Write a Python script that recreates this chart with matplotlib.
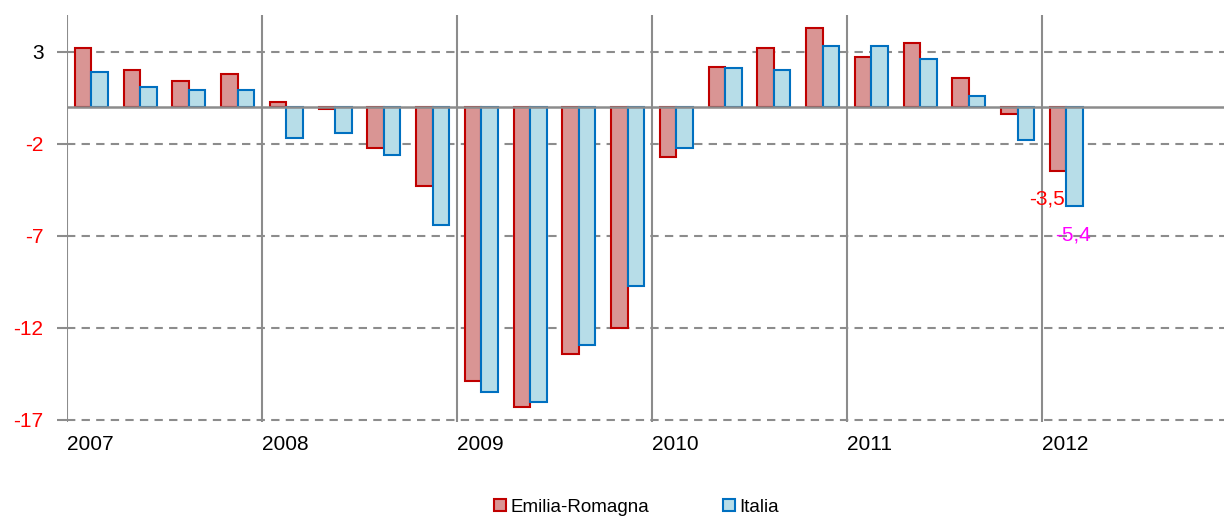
import matplotlib

matplotlib.use("Agg")

import matplotlib.pyplot as plt
import numpy as np
from matplotlib.patches import Patch

plt.rcParams["font.family"] = ["Liberation Sans", "DejaVu Sans"]

# variazioni trimestrali, 2007 T1 - 2012 T1
years = ["2007", "2008", "2009", "2010", "2011", "2012"]
emilia_romagna = [3.2, 2.0, 1.4, 1.8,
                  0.3, -0.1, -2.2, -4.3,
                  -14.9, -16.3, -13.4, -12.0,
                  -2.7, 2.2, 3.2, 4.3,
                  2.7, 3.5, 1.6, -0.4,
                  -3.5]
italia = [1.9, 1.1, 0.9, 0.9,
          -1.7, -1.4, -2.6, -6.4,
          -15.5, -16.0, -12.9, -9.7,
          -2.2, 2.1, 2.0, 3.3,
          3.3, 2.6, 0.6, -1.8,
          -5.4]
y_ticks = [3, -2, -7, -12, -17]

RED_FILL, RED_EDGE = "#D99594", "#C00000"
BLUE_FILL, BLUE_EDGE = "#B7DDE8", "#0070C0"
GRID = "#8C8C8C"

px_unit = 18.4
fig = plt.figure(figsize=(12.24, 5.17), dpi=100)
ax = fig.add_axes([67 / 1224, 1 - 422 / 517, 1 - 67 / 1224, (422 - 15) / 517])

n = len(emilia_romagna)
x = np.arange(n) + 0.5
w = 0.34

ax.bar(x - w / 2, emilia_romagna, w, color=RED_FILL, edgecolor=RED_EDGE, linewidth=1.5, zorder=3)
ax.bar(x + w / 2, italia, w, color=BLUE_FILL, edgecolor=BLUE_EDGE, linewidth=1.5, zorder=3)

ax.set_xlim(0, (1224 - 67) / 48.75)
ax.set_ylim(-17 - 2 / px_unit, 5)

for s in ax.spines.values():
    s.set_visible(False)

for t in y_ticks:
    ax.axhline(t, color=GRID, linestyle=(0, (4, 3)), linewidth=1.5, zorder=1)
ax.axhline(0, color=GRID, linewidth=1.8, zorder=4)
for i in range(len(years)):
    ax.axvline(4 * i, color=GRID, linewidth=1.5, zorder=2)
    ax.text(4 * i, -18.35, years[i], ha="left", va="center", fontsize=15)

ax.set_xticks([])
ax.set_yticks(y_ticks)
ax.set_yticklabels([str(t) for t in y_ticks], fontsize=15)
ax.tick_params(axis="y", length=7, width=1.5, color=GRID, pad=10)
for lab, t in zip(ax.get_yticklabels(), y_ticks):
    lab.set_color("black" if t > 0 else "#FF0000")

# etichette dell'ultimo trimestre
ax.text(x[-1] - 0.03, emilia_romagna[-1] - 1.5, f"{emilia_romagna[-1]:.1f}".replace(".", ","),
        color="#FF0000", fontsize=15, ha="right", va="center", zorder=5)
ax.text(x[-1] + 0.14, italia[-1] - 1.55, f"{italia[-1]:.1f}".replace(".", ","),
        color="#FF00FF", fontsize=15, ha="center", va="center", zorder=5)

handles = [Patch(facecolor=RED_FILL, edgecolor=RED_EDGE, linewidth=1.5),
           Patch(facecolor=BLUE_FILL, edgecolor=BLUE_EDGE, linewidth=1.5)]
fig.legend(handles, ["Emilia-Romagna", "Italia"], loc="lower center", bbox_to_anchor=(0.52, -0.03),
           ncol=2, frameon=False, fontsize=13.5, handlelength=0.65, handleheight=0.65,
           handletextpad=0.25, columnspacing=3.9)

fig.savefig("out.png", dpi=100)
plt.close(fig)
